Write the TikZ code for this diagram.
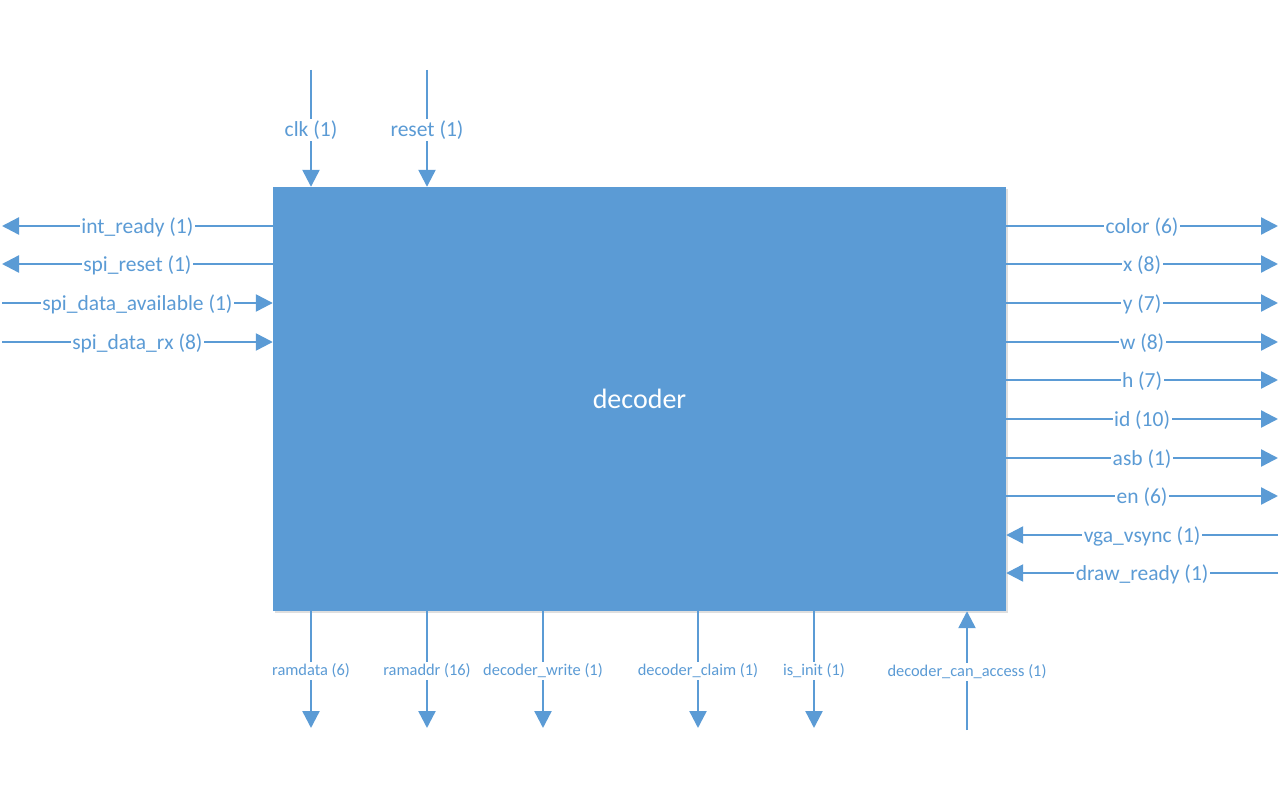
\documentclass[tikz,border=0pt]{standalone}
\usepackage{fontspec}
\setmainfont{Carlito}
\usepackage{tikz}
\usetikzlibrary{arrows.meta,shadows}
\definecolor{decblue}{HTML}{5B9BD5}

\tikzset{
  sig/.style={draw=decblue, line width=2.4pt, -{Triangle[length=17pt,width=17pt]}},
  lbl/.style={fill=white, text=decblue, inner sep=1.5pt, yshift=-1.5pt, font=\fontsize{21.5}{25}\selectfont},
  smalllbl/.style={fill=white, text=decblue, inner sep=1.5pt, yshift=-1.5pt, font=\fontsize{16.4}{19}\selectfont},
  block/.style={fill=decblue, text=white, minimum width=733pt, minimum height=424pt,
    inner sep=0pt, font=\fontsize{28}{32}\selectfont,
    drop shadow={opacity=0.25, shadow xshift=1.5pt, shadow yshift=-1.5pt}}
}

\begin{document}
\begin{tikzpicture}[x=1pt, y=-1pt]
\useasboundingbox (0,0) rectangle (1280,800);
\node[block] (dec) at (639.5,399) {decoder};
% top inputs
\coordinate (clk) at (311,70);
\coordinate (reset) at (427,70);
\draw[sig] (clk) -- (clk |- dec.north) node[lbl, midway] (clklbl) {clk (1)};
\draw[sig] (reset) -- (reset |- dec.north) node[lbl, midway] (resetlbl) {reset (1)};
% left side
\coordinate (intready) at (2,226);
\coordinate (spireset) at (2,264);
\coordinate (spiavail) at (2,303);
\coordinate (spirx) at (2,342);
\draw[sig] (intready -| dec.west) -- (intready) node[lbl, midway] {int\_ready (1)};
\draw[sig] (spireset -| dec.west) -- (spireset) node[lbl, midway] {spi\_reset (1)};
\draw[sig] (spiavail) -- (spiavail -| dec.west) node[lbl, midway] {spi\_data\_available (1)};
\draw[sig] (spirx) -- (spirx -| dec.west) node[lbl, midway] {spi\_data\_rx (8)};
% right side
\coordinate (color) at (1278,226);
\coordinate (x) at (1278,264);
\coordinate (y) at (1278,303);
\coordinate (w) at (1278,342);
\coordinate (h) at (1278,380);
\coordinate (id) at (1278,419);
\coordinate (asb) at (1278,458);
\coordinate (en) at (1278,496);
\coordinate (vsync) at (1278,535);
\coordinate (drawready) at (1278,573);
\draw[sig] (color -| dec.east) -- (color) node[lbl, midway] {color (6)};
\draw[sig] (x -| dec.east) -- (x) node[lbl, midway] {x (8)};
\draw[sig] (y -| dec.east) -- (y) node[lbl, midway] {y (7)};
\draw[sig] (w -| dec.east) -- (w) node[lbl, midway] {w (8)};
\draw[sig] (h -| dec.east) -- (h) node[lbl, midway] {h (7)};
\draw[sig] (id -| dec.east) -- (id) node[lbl, midway] {id (10)};
\draw[sig] (asb -| dec.east) -- (asb) node[lbl, midway] {asb (1)};
\draw[sig] (en -| dec.east) -- (en) node[lbl, midway] {en (6)};
\draw[sig] (vsync) -- (vsync -| dec.east) node[lbl, midway] {vga\_vsync (1)};
\draw[sig] (drawready) -- (drawready -| dec.east) node[lbl, midway] {draw\_ready (1)};
% bottom
\coordinate (ramdata) at (311,728);
\coordinate (ramaddr) at (427,728);
\coordinate (decwrite) at (543,728);
\coordinate (decclaim) at (698,728);
\coordinate (isinit) at (814,728);
\coordinate (canaccess) at (967,730);
\draw[sig] (ramdata |- dec.south) -- (ramdata) node[smalllbl, midway] {ramdata (6)};
\draw[sig] (ramaddr |- dec.south) -- (ramaddr) node[smalllbl, midway] {ramaddr (16)};
\draw[sig] (decwrite |- dec.south) -- (decwrite) node[smalllbl, midway] {decoder\_write (1)};
\draw[sig] (decclaim |- dec.south) -- (decclaim) node[smalllbl, midway] {decoder\_claim (1)};
\draw[sig] (isinit |- dec.south) -- (isinit) node[smalllbl, midway] {is\_init (1)};
\draw[sig] (canaccess) -- (canaccess |- dec.south) node[smalllbl, midway] {decoder\_can\_access (1)};
\end{tikzpicture}
\end{document}
